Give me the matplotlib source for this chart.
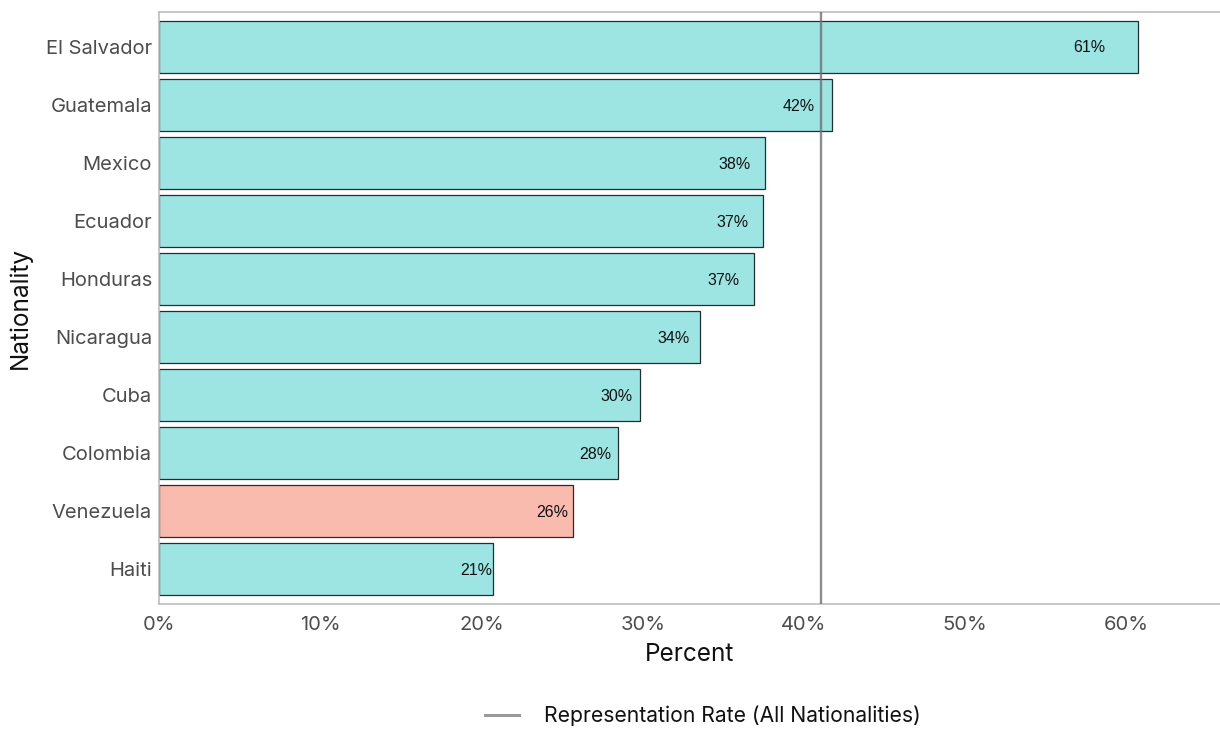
import matplotlib
matplotlib.use("Agg")
import matplotlib.pyplot as plt
from matplotlib.lines import Line2D
from matplotlib.ticker import FuncFormatter

# Share of cases with representation, by nationality (percent)
nationalities = ["El Salvador", "Guatemala", "Mexico", "Ecuador", "Honduras",
                 "Nicaragua", "Cuba", "Colombia", "Venezuela", "Haiti"]
rates = [60.74, 41.74, 37.57, 37.46, 36.87, 33.56, 29.84, 28.48, 25.69, 20.71]
highlight = ["Venezuela"]
overall_rate = 41.04
x_ticks = [0, 10, 20, 30, 40, 50, 60]

TEAL = "#9DE5E3"
SALMON = "#F8BBAD"
SPINE = "#BDBDBD"
UI_FONT = ["Inter", "DejaVu Sans"]

fig = plt.figure(figsize=(12.2, 7.29), dpi=100)
ax = fig.add_axes([159 / 1220, 1 - 604 / 729, 1 - 159 / 1220, (604 - 12) / 729])

ypos = list(range(len(nationalities)))
colors = [SALMON if n in highlight else TEAL for n in nationalities]
ax.barh(ypos, rates, height=0.9, color=colors, edgecolor="#2b2b2b", linewidth=0.9, zorder=2)

for y, v in zip(ypos, rates):
    ax.text(v * 0.95, y + 0.02, f"{round(v)}%", ha="center", va="center",
            fontsize=11.5, family=["Liberation Sans", "DejaVu Sans"], color="#111111", zorder=4)

ax.axvline(overall_rate, color="#707070", alpha=0.8, linewidth=1.7, zorder=3)

ax.set_xlim(0, 65.8)
ax.set_ylim(len(nationalities) - 0.4, -0.6)
ax.set_yticks(ypos)
ax.set_yticklabels(nationalities)
ax.set_xticks(x_ticks)
ax.xaxis.set_major_formatter(FuncFormatter(lambda v, _: f"{v:.0f}%"))

for lbl in ax.get_xticklabels() + ax.get_yticklabels():
    lbl.set_family(UI_FONT)
    lbl.set_fontsize(14.5)
    lbl.set_color("#4D4D4D")
ax.tick_params(axis="both", length=0)
ax.tick_params(axis="y", pad=5)
ax.tick_params(axis="x", pad=9)

for side in ["left", "top", "bottom"]:
    ax.spines[side].set_color(SPINE)
    ax.spines[side].set_linewidth(1.2)
ax.spines["right"].set_visible(False)

ax.set_xlabel("Percent", family=UI_FONT, fontsize=17.5, color="#111111", labelpad=6)
ax.set_ylabel("Nationality", family=UI_FONT, fontsize=17.5, color="#111111", labelpad=10)

handle = Line2D([], [], color="#9A9A9A", linewidth=2.2)
fig.legend(handles=[handle], labels=["Representation Rate (All Nationalities)"],
           loc="center", bbox_to_anchor=(703 / 1220, 1 - 716 / 729), frameon=False,
           prop={"family": UI_FONT, "size": 15.2}, handlelength=1.6, handletextpad=1.2,
           borderpad=0, labelcolor="#111111")

fig.savefig("out.png", dpi=100)
